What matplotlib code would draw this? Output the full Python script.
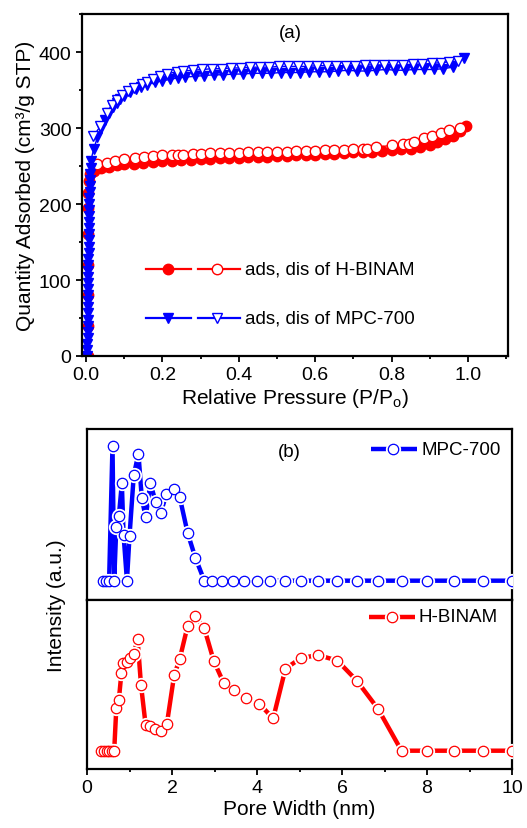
import matplotlib
matplotlib.use("Agg")
import matplotlib.pyplot as plt
from matplotlib.ticker import MultipleLocator, FormatStrFormatter

plt.rcParams['font.family'] = ['Liberation Sans', 'DejaVu Sans']
plt.rcParams['mathtext.default'] = 'regular'

# ---------------- Panel (a): isotherms ----------------
hb_ads_x = [0.004, 0.004, 0.005, 0.005, 0.005, 0.006, 0.006, 0.007, 0.010, 0.02, 0.04, 0.06, 0.08, 0.10,
            0.125, 0.15, 0.175, 0.20, 0.225, 0.25, 0.275, 0.30, 0.325, 0.35, 0.375, 0.40,
            0.425, 0.45, 0.475, 0.50, 0.525, 0.55, 0.575, 0.60, 0.625, 0.65, 0.675, 0.70,
            0.725, 0.75, 0.775, 0.80, 0.825, 0.85, 0.875, 0.90, 0.92, 0.94, 0.96, 0.98, 0.995]
hb_ads_y = [0, 40, 80, 120, 160, 195, 215, 230, 240, 244, 247, 249, 251, 252,
            253, 254, 255, 256, 257, 258, 258.5, 259, 259.5, 260, 260.5, 261,
            261.5, 262, 262.5, 263, 263.5, 264, 264.5, 265, 265.5, 266, 267, 268,
            268.5, 269, 270, 271, 272, 273, 275, 278, 281, 285, 290, 296, 302]

hb_des_x = [0.028, 0.054, 0.075, 0.10, 0.127, 0.153, 0.175, 0.20, 0.225, 0.24, 0.255, 0.28,
            0.30, 0.325, 0.35, 0.375, 0.40, 0.425, 0.45, 0.475, 0.50, 0.525, 0.55, 0.575,
            0.60, 0.625, 0.65, 0.675, 0.70, 0.725, 0.735, 0.76, 0.80, 0.83, 0.845, 0.86,
            0.885, 0.905, 0.93, 0.95, 0.98]
hb_des_y = [252, 254, 257, 259, 261, 262, 263, 264, 264, 265, 265, 265.5,
            266, 266.5, 267, 267, 267.5, 268, 268, 268.5, 269, 269, 269.5, 270,
            270, 270.5, 271, 271, 272, 273, 273, 275, 277, 279, 279, 281,
            287, 290, 294, 297, 300]

mpc_ads_x = [0.003, 0.003, 0.003, 0.004, 0.004, 0.004, 0.004, 0.005, 0.005, 0.005, 0.005,
             0.005, 0.006, 0.006, 0.006, 0.006, 0.006, 0.007, 0.007, 0.007, 0.007, 0.008,
             0.008, 0.008, 0.009, 0.009, 0.009, 0.010, 0.010, 0.011, 0.011, 0.012, 0.012,
             0.02, 0.03, 0.04, 0.05, 0.06, 0.07, 0.08, 0.09, 0.10, 0.115, 0.13, 0.145, 0.16,
             0.18, 0.20, 0.22, 0.24, 0.26, 0.285, 0.31, 0.335, 0.36, 0.385, 0.41, 0.435,
             0.46, 0.485, 0.51, 0.535, 0.56, 0.585, 0.61, 0.635, 0.66, 0.685, 0.71, 0.735,
             0.76, 0.785, 0.81, 0.835, 0.86, 0.885, 0.91, 0.935, 0.96, 0.99]
mpc_ads_y = [0, 8, 16, 24, 32, 40, 48, 56, 64, 72, 80,
             88, 96, 104, 112, 120, 128, 136, 144, 152, 160, 168,
             176, 184, 192, 200, 208, 216, 224, 232, 240, 248, 256,
             272, 288, 300, 311, 320, 327, 333, 338, 342, 347, 351, 354, 357,
             360, 362, 364, 366, 367, 368, 369, 370, 370, 371, 371, 372,
             372, 372, 373, 373, 373, 374, 374, 374, 375, 376, 375, 375,
             376, 377, 376, 376, 377, 377, 377, 378, 380, 392]

mpc_des_x = [0.019, 0.037, 0.054, 0.067, 0.08, 0.095, 0.11, 0.125, 0.146, 0.16, 0.176, 0.195,
             0.211, 0.237, 0.255, 0.28, 0.305, 0.33, 0.355, 0.38, 0.405, 0.43, 0.455, 0.48,
             0.505, 0.53, 0.555, 0.58, 0.605, 0.63, 0.655, 0.68, 0.705, 0.73, 0.755, 0.78,
             0.805, 0.83, 0.855, 0.88, 0.905, 0.93, 0.95, 0.975]
mpc_des_y = [289, 302, 320, 330, 337, 344, 349, 353, 358, 361, 364, 368,
             371, 374, 375, 376, 377, 378, 378, 379, 379, 380, 380, 380,
             381, 381, 381, 381, 382, 382, 382, 382, 382, 383, 383, 383,
             383, 383, 384, 384, 385, 386, 387, 388]

# ---------------- Panel (b): pore size distributions ----------------
mpc_psd_x = [0.38, 0.45, 0.52, 0.60, 0.64, 0.69, 0.75, 0.82, 0.86, 0.94, 1.00, 1.10,
             1.21, 1.29, 1.38, 1.49, 1.62, 1.73, 1.87, 2.04, 2.18, 2.37, 2.55, 2.76,
             2.95, 3.18, 3.44, 3.70, 3.99, 4.31, 4.65, 5.04, 5.44, 5.89, 6.35, 6.85,
             7.40, 7.99, 8.64, 9.31, 10.0]
mpc_psd_y = [0, 0, 0, 1.0, 0, 0.40, 0.48, 0.72, 0.34, 0, 0.33, 0.78,
             0.94, 0.61, 0.47, 0.72, 0.58, 0.50, 0.64, 0.68, 0.62, 0.35, 0.17, 0,
             0, 0, 0, 0, 0, 0, 0, 0, 0, 0, 0, 0,
             0, 0, 0, 0, 0]

hb_psd_x = [0.33, 0.40, 0.46, 0.52, 0.58, 0.64, 0.69, 0.75, 0.81, 0.85, 0.93, 1.02,
            1.10, 1.19, 1.27, 1.38, 1.49, 1.61, 1.73, 1.88, 2.05, 2.18, 2.37, 2.55,
            2.76, 2.98, 3.22, 3.47, 3.73, 4.05, 4.38, 4.67, 5.04, 5.44, 5.89, 6.35,
            6.85, 7.40, 7.99, 8.64, 9.31, 10.0]
hb_psd_y = [0, 0, 0, 0, 0, 0, 0.32, 0.38, 0.58, 0.65, 0.66, 0.69,
            0.72, 0.83, 0.49, 0.19, 0.18, 0.16, 0.15, 0.20, 0.56, 0.68, 0.93, 1.0,
            0.91, 0.67, 0.50, 0.45, 0.39, 0.35, 0.24, 0.61, 0.69, 0.71, 0.67, 0.52,
            0.31, 0, 0, 0, 0, 0]

RED = '#ff0000'
BLUE = '#0000ff'
FS_TICK = 14
FS_LABEL = 15
FS_TEXT = 13.5

W, H = 527, 829
fig = plt.figure(figsize=(W / 100, H / 100), dpi=100)


def rect(l, r, t, b):
    return [l / W, 1 - b / H, (r - l) / W, (b - t) / H]


def style_ticks(ax):
    ax.tick_params(which='major', direction='out', length=4.5, width=1.3,
                   labelsize=FS_TICK, pad=3)
    ax.tick_params(which='minor', direction='out', length=2.5, width=1.3)
    for s in ax.spines.values():
        s.set_linewidth(1.6)


# ---- panel (a)
axa = fig.add_axes(rect(82, 508, 15, 357))
ms = 7.5
axa.plot(hb_ads_x, hb_ads_y, '-', color=RED, lw=1.0, marker='o', ms=ms,
         mfc=RED, mec=RED, mew=1.0)
axa.plot(hb_des_x, hb_des_y, '-', color=RED, lw=1.0, marker='o', ms=ms,
         mfc='white', mec=RED, mew=1.0)
axa.plot(mpc_ads_x, mpc_ads_y, '-', color=BLUE, lw=1.0, marker='v', ms=ms,
         mfc=BLUE, mec=BLUE, mew=1.0)
axa.plot(mpc_des_x, mpc_des_y, '-', color=BLUE, lw=1.0, marker='v', ms=ms,
         mfc='white', mec=BLUE, mew=1.0)

axa.set_xlim(-0.0105, 1.105)
axa.set_ylim(0, 450)
axa.xaxis.set_major_locator(MultipleLocator(0.2))
axa.xaxis.set_minor_locator(MultipleLocator(0.1))
axa.yaxis.set_major_locator(MultipleLocator(100))
axa.yaxis.set_minor_locator(MultipleLocator(50))
axa.xaxis.set_major_formatter(FormatStrFormatter('%.1f'))
style_ticks(axa)
axa.set_xlabel(r'Relative Pressure (P/P$_{o}$)', fontsize=FS_LABEL, labelpad=2)
axa.set_ylabel('Quantity Adsorbed (cm³/g STP)', fontsize=FS_LABEL, labelpad=3)
axa.text(0.488, 0.947, '(a)', transform=axa.transAxes, ha='center', va='center',
         fontsize=FS_TEXT)


def legend_row(ax, y, color, marker, label, x0, x1, xm1, x2, x3, xm2, xt):
    t = ax.transAxes
    ax.plot([x0, x1], [y, y], '-', color=color, lw=1.6, transform=t, clip_on=False)
    ax.plot([x2, x3], [y, y], '-', color=color, lw=1.6, transform=t, clip_on=False)
    ax.plot([xm1], [y], marker=marker, ms=ms, mfc=color, mec=color, transform=t,
            clip_on=False, ls='none')
    ax.plot([xm2], [y], marker=marker, ms=ms, mfc='white', mec=color, transform=t,
            clip_on=False, ls='none')
    ax.text(xt, y, label, transform=t, ha='left', va='center', fontsize=FS_TEXT)


legend_row(axa, 0.254, RED, 'o', 'ads, dis of H-BINAM',
           0.150, 0.255, 0.202, 0.272, 0.371, 0.317, 0.383)
legend_row(axa, 0.111, BLUE, 'v', 'ads, dis of MPC-700',
           0.150, 0.255, 0.202, 0.272, 0.371, 0.317, 0.383)

# ---- panel (b)
axt = fig.add_axes(rect(87, 512, 430, 601))
axb = fig.add_axes(rect(87, 512, 601, 770), sharex=axt)


def psd(ax, x, y, color):
    ax.plot(x, y, '-', color=color, lw=3.2, solid_capstyle='butt', zorder=2)
    ax.plot(x, y, 'o', ms=7.5, mfc='white', mec='white', mew=3.5, zorder=3)
    ax.plot(x, y, 'o', ms=7.5, mfc='white', mec=color, mew=0.9, zorder=4)


psd(axt, mpc_psd_x, mpc_psd_y, BLUE)
psd(axb, hb_psd_x, hb_psd_y, RED)

axt.set_xlim(0, 10)
axt.set_ylim(-0.143, 1.123)
axb.set_ylim(-0.136, 1.12)
for ax in (axt, axb):
    ax.set_yticks([])
    style_ticks(ax)
axt.tick_params(axis='x', which='both', bottom=False, labelbottom=False)
axb.xaxis.set_major_locator(MultipleLocator(2))
axb.xaxis.set_minor_locator(MultipleLocator(1))
axb.set_xlabel('Pore Width (nm)', fontsize=FS_LABEL, labelpad=2)
fig.text(57 / W, 1 - 606 / H, 'Intensity (a.u.)', rotation=90, ha='center',
         va='center', fontsize=FS_LABEL)
axt.text(0.475, 0.871, '(b)', transform=axt.transAxes, ha='center', va='center',
         fontsize=FS_TEXT)


def legend_b(ax, y, color, label, x0, x1, xm, xt):
    t = ax.transAxes
    ax.plot([x0, x1], [y, y], '-', color=color, lw=3.2, transform=t, clip_on=False,
            solid_capstyle='butt')
    ax.plot([xm], [y], 'o', ms=7.5, mfc='white', mec='white', mew=3.5, transform=t,
            clip_on=False)
    ax.plot([xm], [y], 'o', ms=7.5, mfc='white', mec=color, mew=0.9, transform=t,
            clip_on=False)
    ax.text(xt, y, label, transform=t, ha='left', va='center', fontsize=FS_TEXT)


legend_b(axt, 0.883, BLUE, 'MPC-700', 0.668, 0.776, 0.720, 0.786)
legend_b(axb, 0.900, RED, 'H-BINAM', 0.664, 0.772, 0.718, 0.781)

fig.savefig('out.png', dpi=100)
